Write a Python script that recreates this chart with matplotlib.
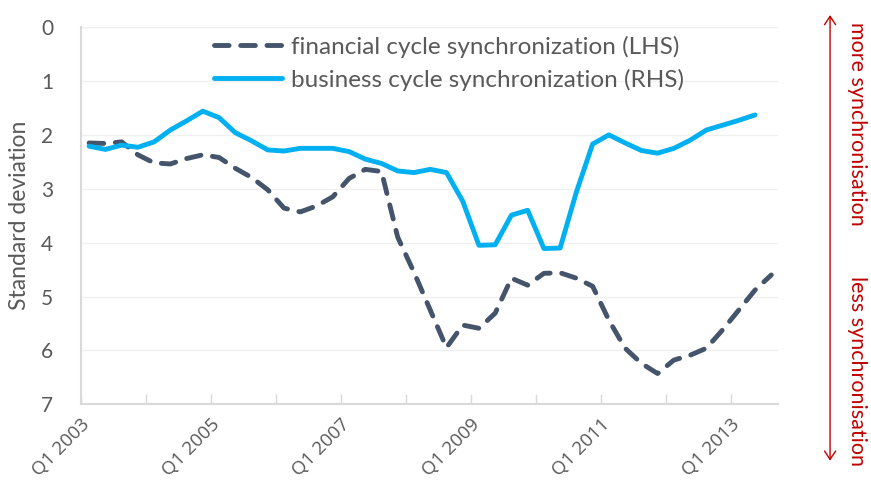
import matplotlib.pyplot as plt
import numpy as np

plt.rcParams['font.family'] = ['Lato', 'DejaVu Sans']

# quarterly, Q1 2003 .. Q3 2013
financial = [2.15, 2.16, 2.13, 2.37, 2.52, 2.54, 2.44, 2.37, 2.42, 2.62,
             2.79, 3.02, 3.36, 3.43, 3.32, 3.15, 2.81, 2.64, 2.68, 3.90,
             4.55, 5.25, 5.95, 5.53, 5.59, 5.31, 4.66, 4.79, 4.57, 4.56,
             4.66, 4.81, 5.44, 5.96, 6.24, 6.43, 6.18, 6.09, 5.96, 5.62,
             5.25, 4.88, 4.60]
business = [2.21, 2.27, 2.19, 2.23, 2.13, 1.91, 1.74, 1.56, 1.68, 1.96,
            2.11, 2.28, 2.30, 2.25, 2.25, 2.25, 2.31, 2.45, 2.53, 2.67,
            2.70, 2.64, 2.70, 3.23, 4.05, 4.04, 3.49, 3.40, 4.11, 4.10,
            3.06, 2.17, 2.00, 2.15, 2.29, 2.34, 2.25, 2.10, 1.91, 1.82,
            1.73, 1.63]
years = list(range(2003, 2014))
labels = ["Q1 %d" % y if i % 2 == 0 else "" for i, y in enumerate(years)]

grey = "#595959"
fig = plt.figure(figsize=(8.71, 4.93), dpi=100)
ax = fig.add_axes([0.093, 0.18, 0.80, 0.765])

ax.plot(np.arange(len(financial)), financial, color="#44546A", lw=3.5,
        ls=(0, (3, 2.4)), dash_capstyle="round",
        label="financial cycle synchronization (LHS)")
ax.plot(np.arange(len(business)), business, color="#00B0F0", lw=3.5,
        solid_capstyle="round", label="business cycle synchronization (RHS)")

ax.set_ylim(7, 0)
ax.set_yticks(range(8))
ax.set_xlim(-0.5, 42.4)
# ticks every year, labels every 2 years
ax.set_xticks(np.arange(-0.5, 43, 4))
ax.tick_params(axis="x", direction="in", length=7, color="#D9D9D9", width=1,
               pad=8)
ax.tick_params(axis="y", length=0, labelsize=15, colors=grey, pad=20)
ax.set_xticklabels(labels, rotation=45, ha="right", rotation_mode="anchor",
                   fontsize=13.5, color=grey,
                   family=["Open Sans", "DejaVu Sans"])
ax.grid(axis="y", color="#F0F0F0", lw=1)
ax.set_axisbelow(True)
for s in ["top", "right"]:
    ax.spines[s].set_visible(False)
for s in ["left", "bottom"]:
    ax.spines[s].set_color("#D9D9D9")
    ax.spines[s].set_linewidth(1.5)
ax.set_ylabel("Standard deviation", fontsize=16.5, color=grey, labelpad=8)

ax.legend(loc="upper center", bbox_to_anchor=(0.528, 1.035), frameon=False,
          fontsize=17.5, handlelength=2.8, handletextpad=0.4,
          labelcolor=grey, labelspacing=0.45)

red = "#C00000"
fig.patches.append(plt.matplotlib.patches.FancyArrowPatch(
    (0.953, 0.975), (0.953, 0.06), transform=fig.transFigure,
    arrowstyle="<->,head_length=6,head_width=4", color=red, lw=1))
fig.text(0.984, 0.955, "more synchronisation", rotation=270, va="top",
         ha="center", color=red, fontsize=15.5)
fig.text(0.984, 0.44, "less synchronisation", rotation=270, va="top",
         ha="center", color=red, fontsize=15.5)

fig.savefig("out.png", dpi=100)
